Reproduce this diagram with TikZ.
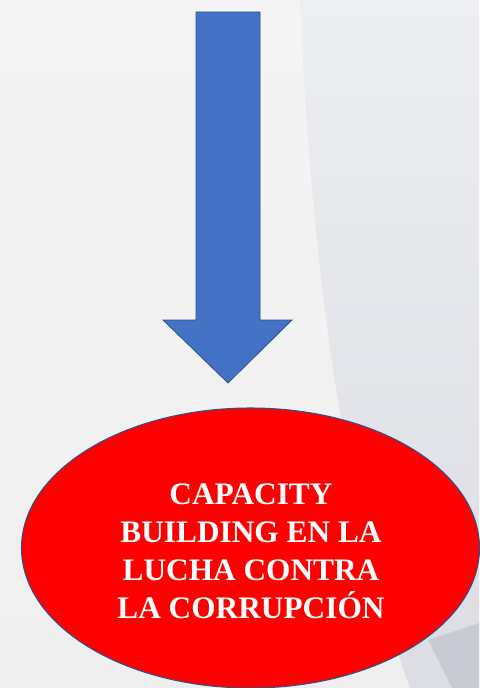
\documentclass[tikz,border=0pt]{standalone}
\usepackage{fontspec}
\setmainfont{Liberation Serif}
\usetikzlibrary{shapes.geometric}
\definecolor{arrowblue}{HTML}{4472C4}
\definecolor{arrowedge}{HTML}{2F528F}
\definecolor{bgleft}{HTML}{F4F4F4}
\definecolor{bgmid}{HTML}{EFEFEF}
\definecolor{bgtop}{HTML}{EDEEF1}
\definecolor{bgbottom}{HTML}{DCDDE3}
\definecolor{bgcorner}{HTML}{C9CBD4}

\begin{document}
\begin{tikzpicture}[
        x=0.75pt, y=-0.75pt,
        goal/.style={ellipse, draw=arrowedge, line width=0.8pt, fill=red, minimum width=343.5pt, minimum height=210pt, inner sep=0pt},
        goaltext/.style={text=white, align=center, font=\bfseries\fontsize{23.5}{28.5}\selectfont},
        blockarrow/.style={fill=arrowblue, draw=arrowedge, line width=0.6pt}
    ]
    % background
    \useasboundingbox (0,0) rectangle (479,688);
    \shade[top color=bgleft, bottom color=bgmid] (0,0) rectangle (479,688);
    \shade[top color=bgtop, bottom color=bgbottom] (300,0) .. controls (310,230) and (335,480) .. (410,688) -- (479,688) -- (479,0) -- cycle;
    \fill[bgcorner] (428,640) -- (479,623) -- (479,688) -- (452,688) -- cycle;

    % arrow
    \draw[blockarrow] (196,12) -- (260,12) -- (260,320) -- (292,320) -- (228,383) -- (163,320) -- (196,320) -- cycle;

    \node[goal] (meta) at (250.5,548) {};
    \node[goaltext] (metatext) at (251,551) {CAPACITY\\ BUILDING EN LA\\ LUCHA CONTRA\\ LA CORRUPCIÓN};
\end{tikzpicture}
\end{document}
